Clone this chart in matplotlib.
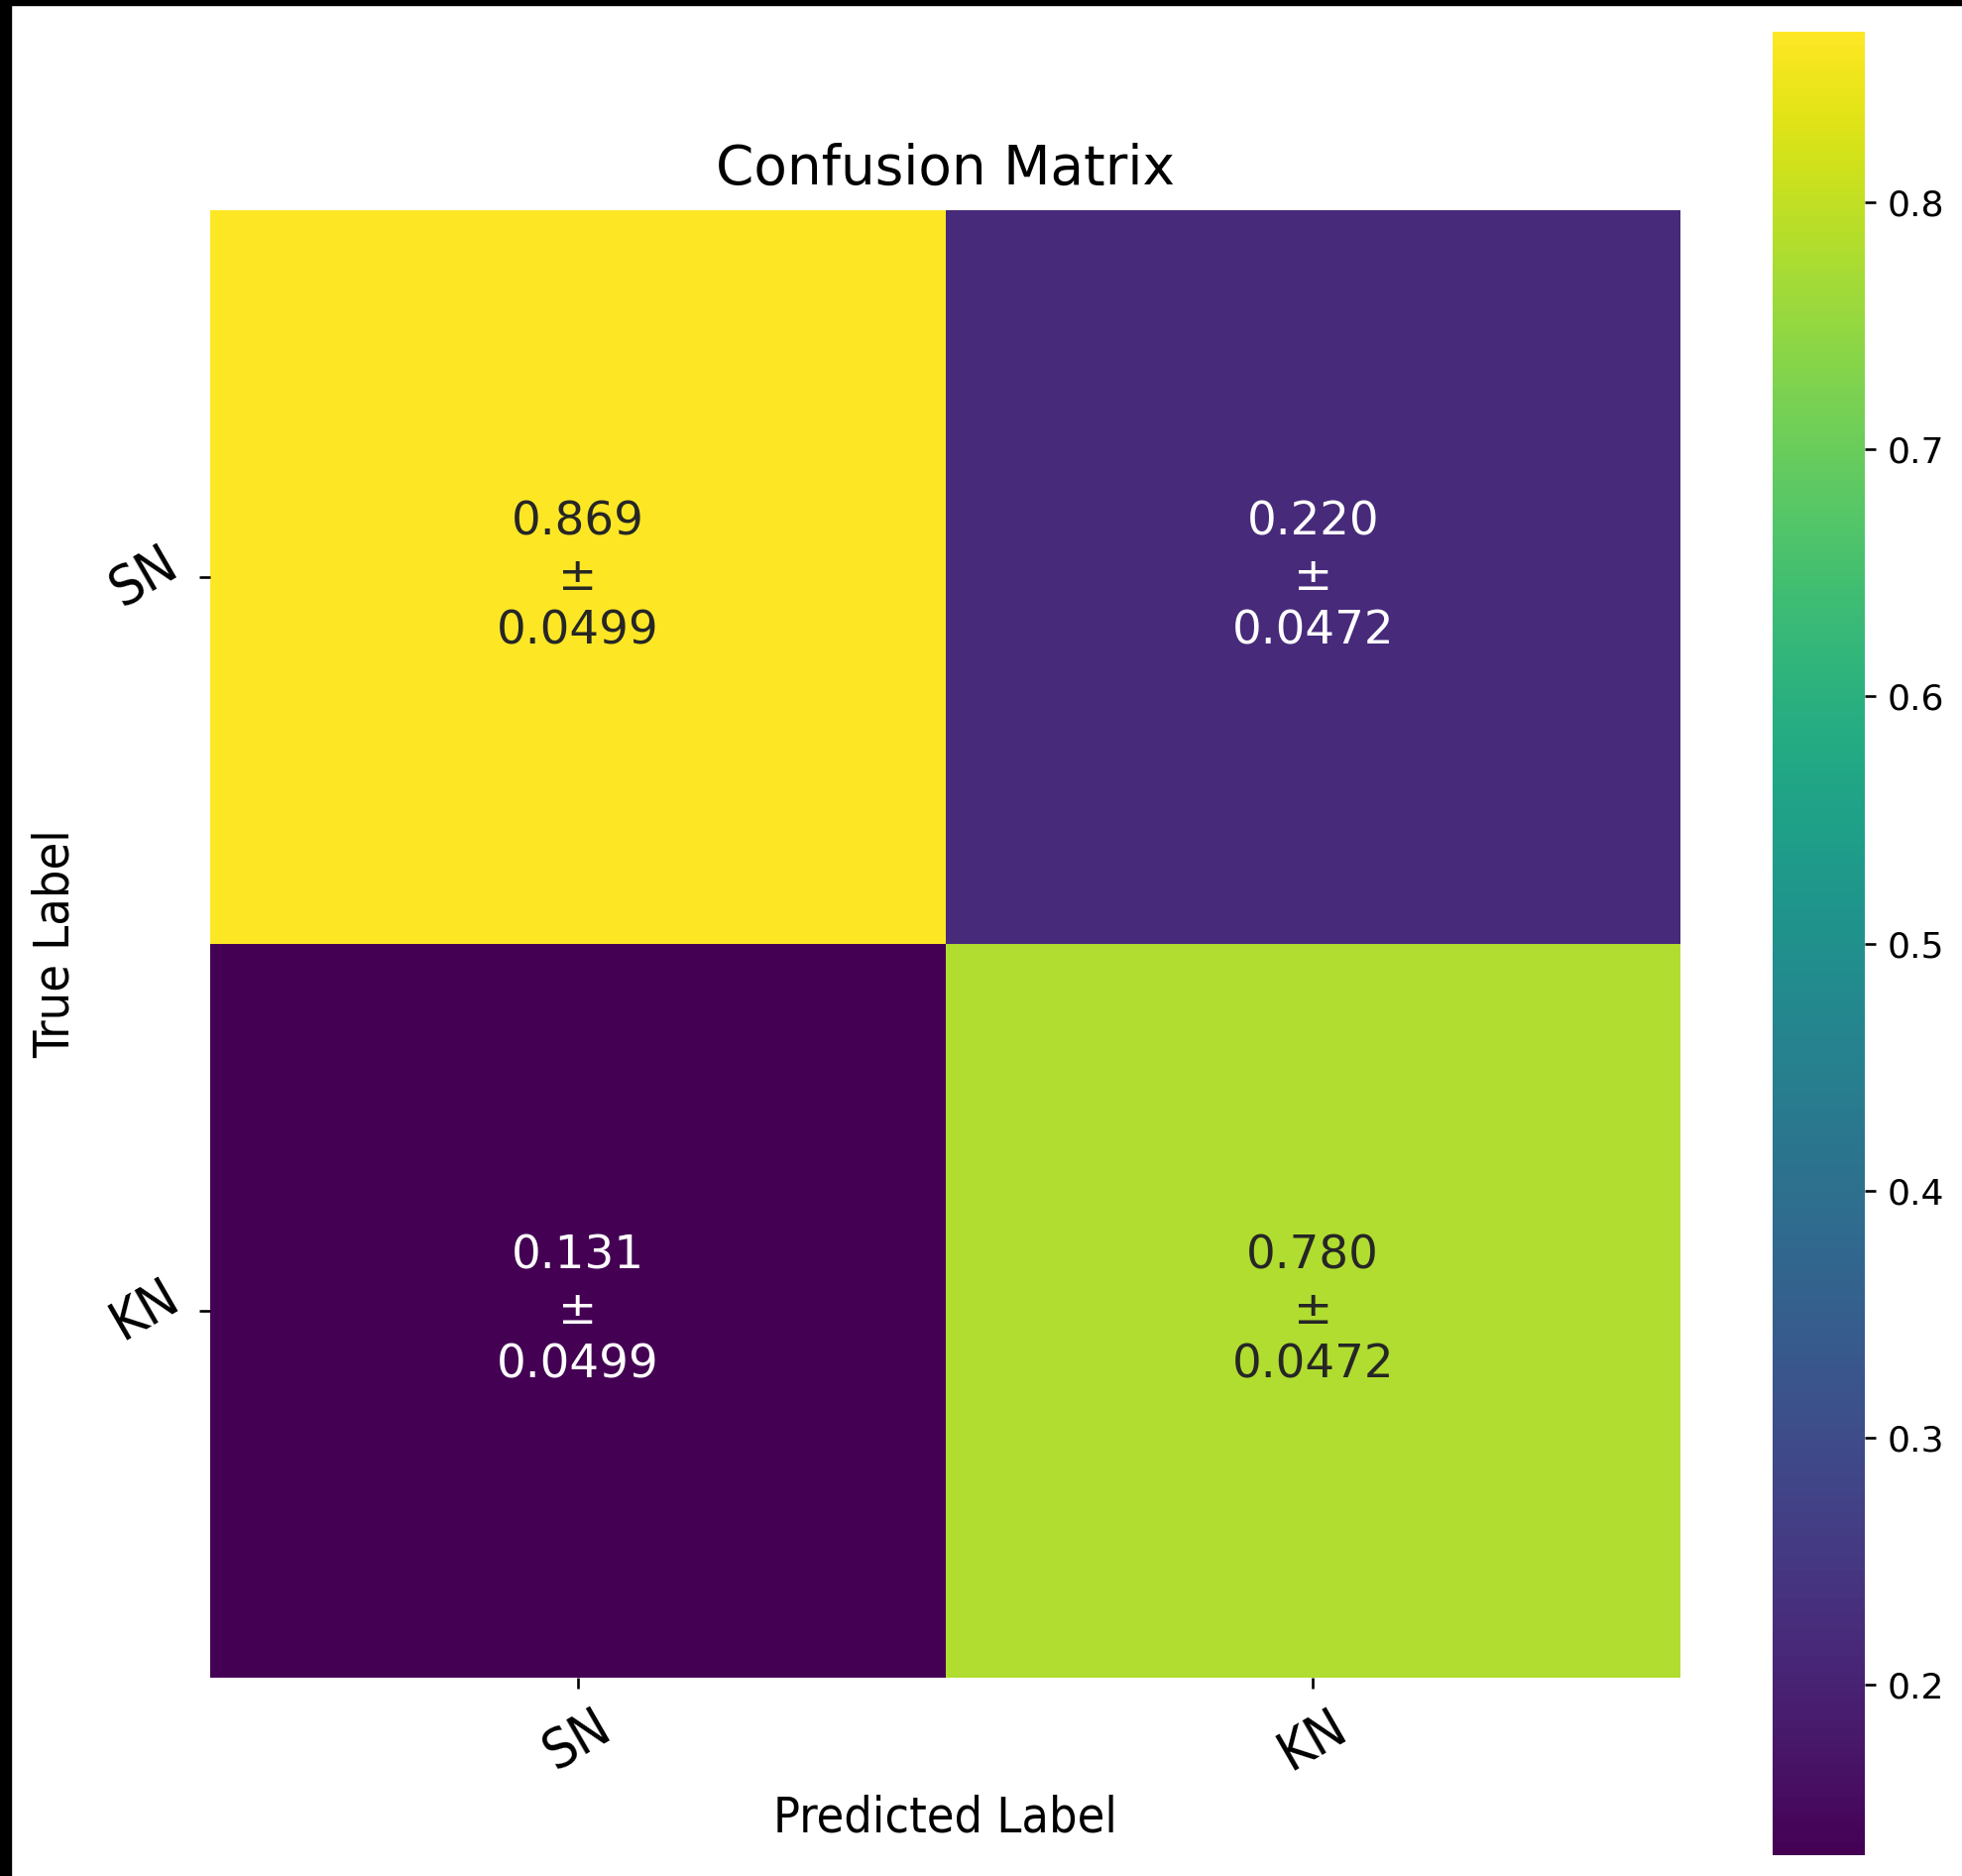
import matplotlib
matplotlib.use("Agg")
import matplotlib.pyplot as plt
import numpy as np
from matplotlib.colors import Normalize
from matplotlib.patches import Rectangle

# class names and the averaged confusion matrix (mean and std over folds)
classi = ["SN", "KN"]
media = [
    [0.869, 0.220],
    [0.131, 0.780],
]
deviazione = [
    [0.0499, 0.0472],
    [0.0499, 0.0472],
]
tick_barra = [0.2, 0.3, 0.4, 0.5, 0.6, 0.7, 0.8]

LARGHEZZA, ALTEZZA, DPI = 1979, 1892, 100

valori = np.array(media)
errori = np.array(deviazione)
norma = Normalize(vmin=valori.min(), vmax=valori.max())
cmap = plt.get_cmap("viridis")

fig = plt.figure(figsize=(LARGHEZZA / DPI, ALTEZZA / DPI), dpi=DPI)
ax = fig.add_axes([212 / LARGHEZZA, 1 - 1692 / ALTEZZA, 1483 / LARGHEZZA, 1480 / ALTEZZA])
cax = fig.add_axes([1788 / LARGHEZZA, 1 - 1871 / ALTEZZA, 93 / LARGHEZZA, 1839 / ALTEZZA])

righe, colonne = valori.shape
mesh = ax.pcolormesh(np.arange(colonne + 1), np.arange(righe + 1), valori,
                     cmap=cmap, norm=norma)
ax.set_xlim(0, colonne)
ax.set_ylim(righe, 0)
for lato in ax.spines.values():
    lato.set_visible(False)

# annotations: dark text on light cells, white on dark ones
for i in range(righe):
    for j in range(colonne):
        r, g, b, _ = cmap(norma(valori[i, j]))
        lum = 0.2126 * r + 0.7152 * g + 0.0722 * b
        colore = "#262626" if lum > 0.408 else "white"
        ax.text(j + 0.5, i + 0.5, f"{valori[i, j]:.3f}\n±\n{errori[i, j]:.4f}",
                ha="center", va="center", fontsize=33.7, color=colore,
                linespacing=1.29)

ax.set_xticks(np.arange(colonne) + 0.5)
ax.set_yticks(np.arange(righe) + 0.5)
ax.set_xticklabels(classi, rotation=30, ha="center", fontsize=40, fontstretch="condensed")
ax.set_yticklabels(classi, rotation=30, ha="right", va="center", fontsize=40,
                   fontstretch="condensed")
ax.tick_params(length=8.2, width=1.9, pad=8.2)

ax.set_title("Confusion Matrix", fontsize=39.5, pad=19)
ax.set_xlabel("Predicted Label", fontsize=36, fontstretch="condensed")
ax.set_ylabel("True Label", fontsize=36, fontstretch="condensed")
ax.xaxis.set_label_coords(0.5, -0.0953)
ax.xaxis.label.set_va("center")
ax.yaxis.set_label_coords(-0.1055, 0.5)
ax.yaxis.label.set_va("center")

barra = fig.colorbar(mesh, cax=cax)
barra.outline.set_linewidth(0)
barra.set_ticks(tick_barra)
barra.ax.tick_params(labelsize=26, length=8.2, width=1.9, pad=8)

# dark edge along the left and top border of the capture
fig.patches.append(Rectangle((0, 0), 11 / LARGHEZZA, 1, transform=fig.transFigure,
                             color="black", zorder=10))
fig.patches.append(Rectangle((0, 1 - 5 / ALTEZZA), 1, 5 / ALTEZZA, transform=fig.transFigure,
                             color="black", zorder=10))

fig.savefig("out.png", dpi=DPI)
